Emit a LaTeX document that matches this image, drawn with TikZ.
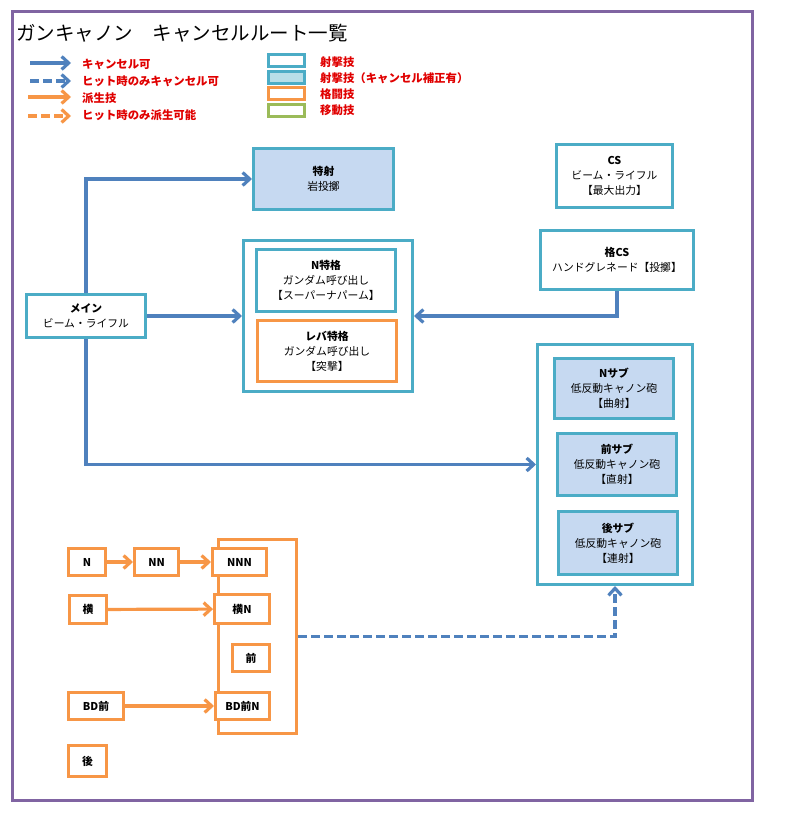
\documentclass[tikz,border=0pt]{standalone}
\usepackage{fontspec}
\setmainfont{Noto Sans CJK JP}
\usetikzlibrary{arrows.meta}
\definecolor{ArrowBlue}{HTML}{4F81BD}
\definecolor{ShotTeal}{HTML}{4BACC6}
\definecolor{MeleeOrange}{HTML}{F79646}
\definecolor{MoveGreen}{HTML}{9BBB59}
\definecolor{FramePurple}{HTML}{8064A2}
\definecolor{ShotFill}{HTML}{C6D9F1}
\definecolor{LegendFill}{HTML}{B7DEE8}
\definecolor{NoteRed}{HTML}{E00000}
\begin{document}
\begin{tikzpicture}[x=1pt, y=-1pt,
    box/.style={draw=ShotTeal, line width=3pt, fill=white, align=center, inner sep=0pt, font=\fontsize{10.8}{15}\selectfont},
    shotbox/.style={box, fill=ShotFill},
    meleebox/.style={box, draw=MeleeOrange},
    small/.style={meleebox, font=\fontsize{10.8}{13}\selectfont\bfseries},
    cancel/.style={draw=ArrowBlue, line width=3.2pt, -{Straight Barb[length=7pt,width=13pt]}},
    derive/.style={cancel, draw=MeleeOrange},
    hitonly/.style={dash pattern=on 9pt off 4pt},
    note/.style={text=NoteRed, font=\fontsize{11.4}{13}\selectfont\bfseries, anchor=west, inner sep=0pt}]
    \useasboundingbox (0,0) rectangle (792,818);
    \draw [FramePurple, line width=3pt] (12,12) rectangle (752,800);
    \node [anchor=west, inner sep=0pt, font=\fontsize{19.5}{21}\selectfont] (title) at (16,33) {ガンキャノン　キャンセルルート一覧};

    % legend
    \coordinate (la1) at (30,63);  \coordinate (lb1) at (71,63);
    \coordinate (la2) at (30,81);  \coordinate (lb2) at (71,81);
    \coordinate (la3) at (28,97);  \coordinate (lb3) at (71,97);
    \coordinate (la4) at (28,116); \coordinate (lb4) at (71,116);
    \draw [cancel] (la1) -- (lb1);
    \draw [cancel, hitonly] (la2) -- (lb2);
    \draw [derive] (la3) -- (lb3);
    \draw [derive, hitonly] (la4) -- (lb4);
    \node [note] (n1) at (82,64) {キャンセル可};
    \node [note] (n2) at (82,81) {ヒット時のみキャンセル可};
    \node [note] (n3) at (82,98) {派生技};
    \node [note] (n4) at (82,115) {ヒット時のみ派生可能};
    \node [box, minimum width=36pt, minimum height=12pt] (k1) at (286,61) {};
    \node [box, fill=LegendFill, minimum width=36pt, minimum height=12pt] (k2) at (286,77.5) {};
    \node [meleebox, minimum width=36pt, minimum height=12pt] (k3) at (286,93.5) {};
    \node [box, draw=MoveGreen, minimum width=36pt, minimum height=12pt] (k4) at (286,110.5) {};
    \node [note] (t1) at (320,62) {射撃技};
    \node [note] (t2) at (320,78) {射撃技（キャンセル補正有）};
    \node [note] (t3) at (320,94) {格闘技};
    \node [note] (t4) at (320,110) {移動技};

    % shooting
    \node [box, minimum width=119pt, minimum height=43pt] (main) at (86,316) {\textbf{メイン}\\ビーム・ライフル};
    \node [shotbox, minimum width=140pt, minimum height=61pt] (tokusha) at (323.5,179) {\textbf{特射}\\岩投擲};
    \node [box, minimum width=169pt, minimum height=151pt] (tkgroup) at (328,316) {};
    \node [box, minimum width=139pt, minimum height=62pt] (ntoku) at (326,280.5) {\textbf{N特格}\\ガンダム呼び出し\\【スーパーナパーム】};
    \node [meleebox, minimum width=139pt, minimum height=61pt] (levertoku) at (327,351) {\textbf{レバ特格}\\ガンダム呼び出し\\【突撃】};
    \node [box, minimum width=116pt, minimum height=63pt] (cs) at (614.5,176) {\textbf{CS}\\ビーム・ライフル\\【最大出力】};
    \node [box, minimum width=153pt, minimum height=59pt] (kakucs) at (617,260) {\textbf{格CS}\\ハンドグレネード【投擲】};
    \node [box, minimum width=155pt, minimum height=240pt] (subgroup) at (615,464.5) {};
    \node [shotbox, minimum width=119pt, minimum height=60pt] (nsub) at (614,388.5) {\textbf{Nサブ}\\低反動キャノン砲\\【曲射】};
    \node [shotbox, minimum width=119pt, minimum height=62pt] (maesub) at (617,464.5) {\textbf{前サブ}\\低反動キャノン砲\\【直射】};
    \node [shotbox, minimum width=119pt, minimum height=63pt] (atosub) at (618,543) {\textbf{後サブ}\\低反動キャノン砲\\【連射】};

    % melee
    \node [meleebox, minimum width=78pt, minimum height=194pt] (ogroup) at (257.5,636.5) {};
    \node [small, minimum width=37pt, minimum height=27pt] (n) at (87,562) {N};
    \node [small, minimum width=44pt, minimum height=27pt] (nn) at (156.5,562) {NN};
    \node [small, minimum width=54pt, minimum height=27pt] (nnn) at (239.5,562) {NNN};
    \node [small, minimum width=37pt, minimum height=28pt] (yoko) at (88,609.5) {横};
    \node [small, minimum width=55pt, minimum height=29pt] (yokon) at (242,609) {横N};
    \node [small, minimum width=37pt, minimum height=27pt] (mae) at (251,658) {前};
    \node [small, minimum width=55pt, minimum height=27pt] (bdmae) at (96,706) {BD前};
    \node [small, minimum width=54pt, minimum height=27pt] (bdmaen) at (242.5,706) {BD前N};
    \node [small, minimum width=38pt, minimum height=31pt] (ato) at (87.5,761) {後};

    \draw [cancel] (main.north) |- (tokusha.west);
    \draw [cancel] (main.east) -- (tkgroup.west);
    \draw [cancel] (main.south) |- (subgroup.west);
    \draw [cancel] (kakucs.south) |- (tkgroup.east);
    \draw [cancel, hitonly] (ogroup.east) -| (subgroup.south);
    \draw [derive] (n) -- (nn);
    \draw [derive] (nn) -- (nnn);
    \draw [derive] (yoko) -- (yokon);
    \draw [derive] (bdmae) -- (bdmaen);
\end{tikzpicture}
\end{document}
